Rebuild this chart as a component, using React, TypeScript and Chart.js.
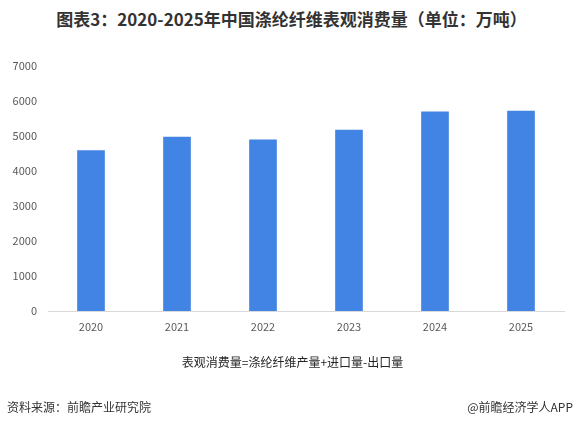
import React, { useEffect, useRef } from "react";
import { Chart, registerables } from "chart.js";

Chart.register(...registerables);

const years = ["2020", "2021", "2022", "2023", "2024", "2025"];
const consumption = [4580, 4970, 4890, 5170, 5690, 5710];
const yTicks = [0, 1000, 2000, 3000, 4000, 5000, 6000, 7000];

const titleText = "图表3：2020-2025年中国涤纶纤维表观消费量（单位：万吨）";
const noteText = "表观消费量=涤纶纤维产量+进口量-出口量";
const sourceText = "资料来源：前瞻产业研究院";
const brandText = "@前瞻经济学人APP";

const FONT = "'Microsoft YaHei', 'Noto Sans CJK SC', 'DejaVu Sans', sans-serif";

export default function App() {
  const ref = useRef<HTMLCanvasElement | null>(null);

  useEffect(() => {
    if (!ref.current) return;
    const chart = new Chart(ref.current, {
      type: "bar",
      data: {
        labels: years,
        datasets: [
          {
            label: "表观消费量",
            data: consumption,
            backgroundColor: "#4184E3",
            barThickness: 27,
          },
        ],
      },
      options: {
        responsive: false,
        animation: false,
        layout: { padding: { left: 0, right: 13, top: 66, bottom: 85 } },
        plugins: {
          legend: { display: false },
          title: { display: false },
          tooltip: { enabled: false },
        },
        scales: {
          x: {
            grid: { display: false, drawTicks: false },
            border: { display: true, color: "#d9d9d9", width: 1 },
            ticks: { color: "#595959", font: { size: 11, family: FONT }, padding: 9 },
            afterFit: (s: any) => {
              s.height = 30;
            },
          },
          y: {
            min: 0,
            max: 7000,
            afterBuildTicks: (s: any) => {
              s.ticks = yTicks.map((v) => ({ value: v }));
            },
            grid: { display: false, drawTicks: false },
            border: { display: false },
            ticks: {
              color: "#595959",
              font: { size: 11, family: FONT },
              padding: 11,
              callback: (v: any) => String(v),
            },
            afterFit: (s: any) => {
              s.width = 48;
            },
          },
        },
      },
    });
    return () => chart.destroy();
  }, []);

  return (
    <div
      style={{
        position: "fixed",
        left: 0,
        top: 0,
        width: 577,
        height: 426,
        background: "#ffffff",
        overflow: "hidden",
        fontFamily: FONT,
      }}
    >
      <div
        style={{
          position: "absolute",
          left: 0,
          top: 8,
          width: 577,
          textAlign: "center",
          fontSize: 17,
          fontWeight: "bold",
          color: "#333333",
          lineHeight: "22px",
          paddingLeft: 6,
          boxSizing: "border-box",
        }}
      >
        {titleText}
      </div>
      <canvas ref={ref} width={577} height={426} style={{ position: "absolute", left: 0, top: 0 }} />
      <div
        style={{
          position: "absolute",
          left: 0,
          top: 354,
          width: 577,
          textAlign: "center",
          fontSize: 12,
          color: "#262626",
          lineHeight: "16px",
          paddingLeft: 8,
          boxSizing: "border-box",
        }}
      >
        {noteText}
      </div>
      <div
        style={{
          position: "absolute",
          left: 7,
          top: 399,
          fontSize: 12,
          color: "#333333",
          lineHeight: "16px",
        }}
      >
        {sourceText}
      </div>
      <div
        style={{
          position: "absolute",
          right: 4,
          top: 399,
          fontSize: 12,
          color: "#333333",
          lineHeight: "16px",
        }}
      >
        {brandText}
      </div>
    </div>
  );
}
